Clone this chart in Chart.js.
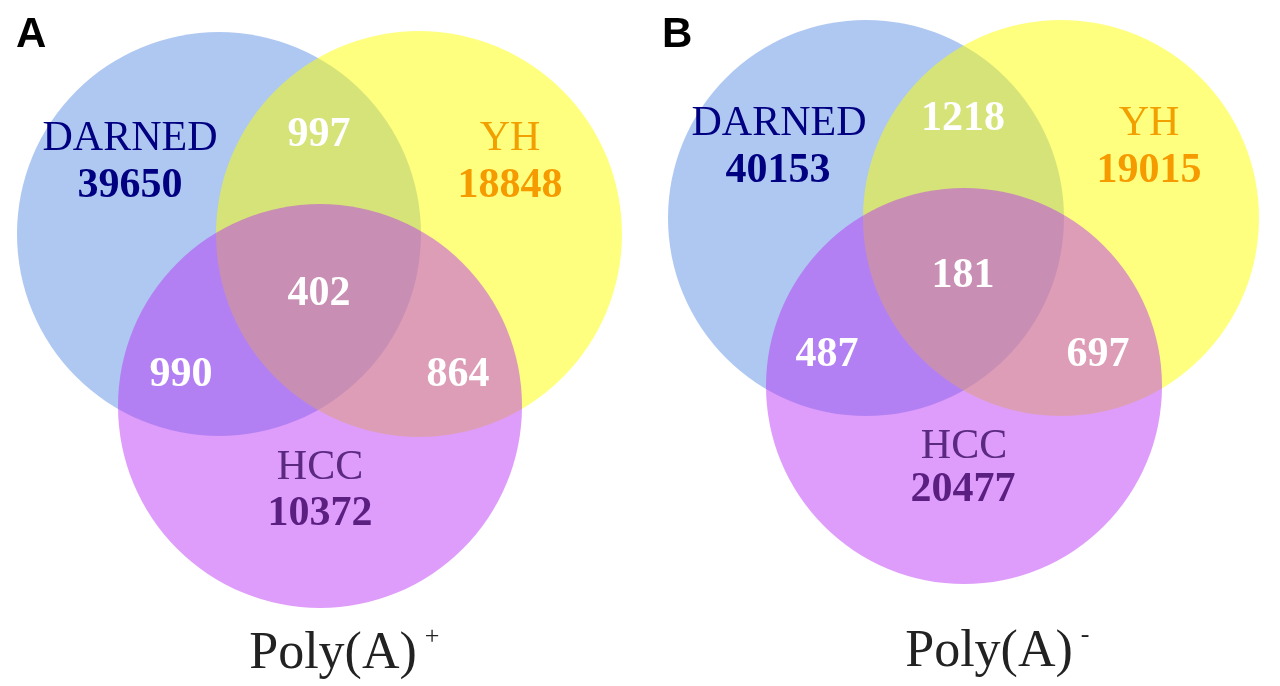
<!DOCTYPE html>
<html>
<head>
<meta charset="utf-8">
<script src="https://cdn.jsdelivr.net/npm/chart.js@4"></script>
<style>
  html, body { margin: 0; padding: 0; background: #fff; }
  #wrap { width: 1280px; height: 686px; position: relative; }
</style>
</head>
<body>
<div id="wrap"><canvas id="venn"></canvas></div>
<script>
// set names and counts
const setNames = ["DARNED", "YH", "HCC"];
const panelLetters = ["A", "B"];
const panelTitles = ["Poly(A)", "Poly(A)"];
const titleMarks = ["+", "-"];

// panel A: Poly(A)+
const onlyA = [39650, 18848, 10372];      // DARNED, YH, HCC
const pairA = [997, 990, 864];            // D∩Y, D∩H, Y∩H
const allA = 402;

// panel B: Poly(A)-
const onlyB = [40153, 19015, 20477];
const pairB = [1218, 487, 697];
const allB = 181;

// layout (scale units == page pixels)
const circleA = [[219, 234, 202], [419, 234, 203], [320, 406, 202]];
const circleB = [[866, 218, 198], [1061, 218, 198], [964, 386, 198]];

const fills = ["rgba(93,145,229,0.5)", "rgba(255,255,0,0.5)", "rgba(185,50,245,0.48)"];
const nameColors = ["#000080", "#f2a000", "#5b2a80"];
const numColors = ["#000080", "#f59b00", "#5a1f80"];

const labelPosA = {
  name: [[130, 150], [510, 150], [320, 479]],
  only: [[130, 197], [510, 197], [320, 525]],
  pair: [[319, 146], [181, 386], [458, 386]],
  all: [319, 305],
  title: [333, 668],
  letter: [16, 47]
};
const labelPosB = {
  name: [[779, 135], [1149, 135], [964, 458]],
  only: [[778, 182], [1149, 182], [963, 501]],
  pair: [[963, 130], [827, 366], [1098, 366]],
  all: [963, 287],
  title: [989, 666],
  letter: [662, 47]
};

const panels = [
  { only: onlyA, pair: pairA, all: allA, pos: labelPosA },
  { only: onlyB, pair: pairB, all: allB, pos: labelPosB }
];

function radiusFor(chart, r) {
  const s = chart.scales && chart.scales.x;
  if (!s || !isFinite(s.getPixelForValue(r))) return r;
  return s.getPixelForValue(r) - s.getPixelForValue(0);
}

const datasets = setNames.map((name, i) => ({
  label: name,
  data: [
    { x: circleA[i][0], y: circleA[i][1], rr: circleA[i][2] },
    { x: circleB[i][0], y: circleB[i][1], rr: circleB[i][2] }
  ],
  backgroundColor: fills[i],
  borderWidth: 0,
  order: 3 - i,
  clip: false,
  radius: (ctx) => ctx.raw ? radiusFor(ctx.chart, ctx.raw.rr) : 0
}));

const vennText = {
  id: "vennText",
  afterDatasetsDraw(chart) {
    const ctx = chart.ctx;
    const sx = chart.scales.x, sy = chart.scales.y;
    const px = (p) => [sx.getPixelForValue(p[0]), sy.getPixelForValue(p[1])];
    ctx.save();
    ctx.textBaseline = "alphabetic";
    panels.forEach((p, k) => {
      ctx.textAlign = "center";
      setNames.forEach((name, i) => {
        let [x, y] = px(p.pos.name[i]);
        ctx.font = "42px 'Liberation Serif', 'Times New Roman', serif";
        ctx.fillStyle = nameColors[i];
        ctx.fillText(name, x, y);
        [x, y] = px(p.pos.only[i]);
        ctx.font = "bold 42px 'Liberation Serif', 'Times New Roman', serif";
        ctx.fillStyle = numColors[i];
        ctx.fillText(String(p.only[i]), x, y);
      });
      ctx.font = "bold 42px 'Liberation Serif', 'Times New Roman', serif";
      ctx.fillStyle = "#ffffff";
      p.pair.forEach((v, i) => {
        const [x, y] = px(p.pos.pair[i]);
        ctx.fillText(String(v), x, y);
      });
      let [x, y] = px(p.pos.all);
      ctx.fillText(String(p.all), x, y);

      // panel title with superscript
      [x, y] = px(p.pos.title);
      ctx.font = "52px 'Liberation Serif', 'Times New Roman', serif";
      ctx.fillStyle = "#222222";
      ctx.fillText(panelTitles[k], x, y);
      const w = ctx.measureText(panelTitles[k]).width;
      ctx.textAlign = "left";
      ctx.font = "26px 'Liberation Serif', 'Times New Roman', serif";
      ctx.fillText(titleMarks[k], x + w / 2 + 8, y - 24);

      // panel letter
      [x, y] = px(p.pos.letter);
      ctx.font = "bold 42px 'Liberation Sans', Arial, sans-serif";
      ctx.fillStyle = "#000000";
      ctx.fillText(panelLetters[k], x, y);
    });
    ctx.restore();
  }
};

new Chart(document.getElementById("venn"), {
  type: "bubble",
  data: { datasets: datasets },
  options: {
    responsive: true,
    maintainAspectRatio: false,
    animation: false,
    events: [],
    layout: { padding: 0, autoPadding: false },
    scales: {
      x: { type: "linear", min: 0, max: 1280, display: false },
      y: { type: "linear", min: 0, max: 686, reverse: true, display: false }
    },
    plugins: {
      legend: { display: false },
      tooltip: { enabled: false }
    }
  },
  plugins: [vennText]
});
</script>
</body>
</html>
